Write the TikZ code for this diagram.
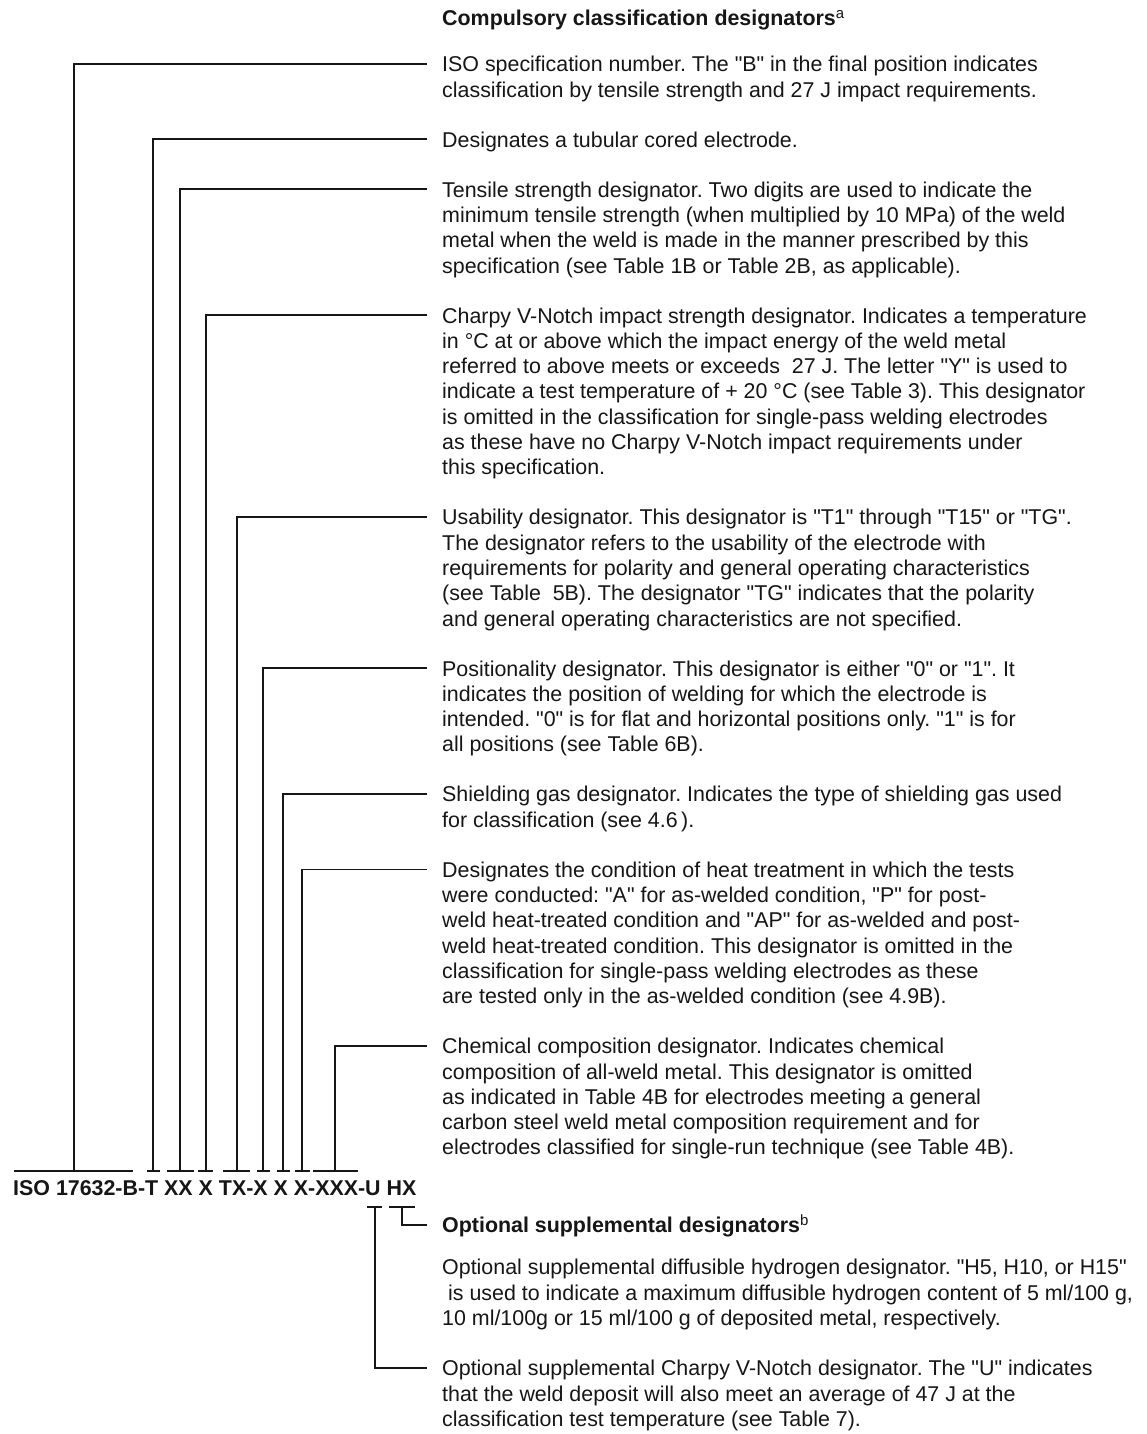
\documentclass[tikz,border=0pt]{standalone}
\usepackage{fontspec}
\setmainfont{Liberation Sans}[Ligatures=TeXOff]
\newcommand\bodyfnt{\fontsize{21.4pt}{25.3pt}\selectfont\frenchspacing}
\definecolor{ink}{HTML}{161616}
\tikzset{
  desc/.style={anchor=north west, inner sep=0pt, align=left, font=\bodyfnt, text=ink, yshift=10.05pt},
  head/.style={anchor=base west, inner sep=0pt, font=\bodyfnt\bfseries, text=ink},
  lead/.style={draw=ink, line width=1.8pt},
}
\begin{document}
\begin{tikzpicture}[x=1pt,y=-1pt]
\useasboundingbox (0,0) rectangle (1147,1434);
\fill[white] (0,0) rectangle (1147,1434);

% headings
\node[head] (h1) at (442,25.7) {Compulsory classification designators\textsuperscript{\mdseries a}};
\node[head] (code) at (13,1195) {ISO 17632-B-T XX X TX-X X X-XXX-U HX};
\node[head] (h2) at (442,1232.7) {Optional supplemental designators\textsuperscript{\mdseries b}};

% descriptions
\node[desc] (t1) at (442,64) {\strut ISO specification number. The "B" in the final position indicates\\
classification by tensile strength and 27 J impact requirements.};
\node[desc] (t2) at (442,139.3) {\strut Designates a tubular cored electrode.};
\node[desc] (t3) at (442,189.3) {\strut Tensile strength designator. Two digits are used to indicate the\\
minimum tensile strength (when multiplied by 10 MPa) of the weld\\
metal when the weld is made in the manner prescribed by this\\
specification (see Table 1B or Table 2B, as applicable).};
\node[desc] (t4) at (442,315.2) {\strut Charpy V-Notch impact strength designator. Indicates a temperature\\
in °C at or above which the impact energy of the weld metal\\
referred to above meets or exceeds\ \ 27 J. The letter "Y" is used to\\
indicate a test temperature of + 20 °C (see Table 3). This designator\\
is omitted in the classification for single-pass welding electrodes\\
as these have no Charpy V-Notch impact requirements under\\
this specification.};
\node[desc] (t5) at (442,517) {\strut Usability designator. This designator is "T1" through "T15" or "TG".\\
The designator refers to the usability of the electrode with\\
requirements for polarity and general operating characteristics\\
(see Table\ \ 5B). The designator "TG" indicates that the polarity\\
and general operating characteristics are not specified.};
\node[desc] (t6) at (442,668.2) {\strut Positionality designator. This designator is either "0" or "1". It\\
indicates the position of welding for which the electrode is\\
intended. "0" is for flat and horizontal positions only. "1" is for\\
all positions (see Table 6B).};
\node[desc] (t7) at (442,794.1) {\strut Shielding gas designator. Indicates the type of shielding gas used\\
for classification (see 4.6\,).};
\node[desc] (t8) at (442,869.4) {\strut Designates the condition of heat treatment in which the tests\\
were conducted: "A" for as-welded condition, "P" for post-\\
weld heat-treated condition and "AP" for as-welded and post-\\
weld heat-treated condition. This designator is omitted in the\\
classification for single-pass welding electrodes as these\\
are tested only in the as-welded condition (see 4.9B).};
\node[desc] (t9) at (442,1045.9) {\strut Chemical composition designator. Indicates chemical\\
composition of all-weld metal. This designator is omitted\\
as indicated in Table 4B for electrodes meeting a general\\
carbon steel weld metal composition requirement and for\\
electrodes classified for single-run technique (see Table 4B).};
\node[desc] (t10) at (442,1267) {\strut Optional supplemental diffusible hydrogen designator. "H5, H10, or H15"\\
\hspace{0.28em}is used to indicate a maximum diffusible hydrogen content of 5 ml/100 g,\\
10 ml/100g or 15 ml/100 g of deposited metal, respectively.};
\node[desc] (t11) at (442,1368) {\strut Optional supplemental Charpy V-Notch designator. The "U" indicates\\
that the weld deposit will also meet an average of 47 J at the\\
classification test temperature (see Table 7).};

% bracket bars above the code
\foreach \n/\l/\r/\v in {1/14/133/74, 2/147/160/153, 3/167/194/180, 4/198/213/206,
  5/223/250/237, 6/257/270/263, 7/277/290/283, 8/295/310/302, 9/313/358/335}{
  \coordinate (bl\n) at (\l,1171);
  \coordinate (br\n) at (\r,1171);
  \coordinate (bv\n) at (\v,1171);
  \draw[lead] (bl\n) -- (br\n);
}
% bracket bars below the code
\coordinate (ul) at (367,1207); \coordinate (ur) at (382,1207); \coordinate (uv) at (375,1207);
\coordinate (hl) at (389,1207); \coordinate (hr) at (415,1207); \coordinate (hv) at (402,1207);
\draw[lead] (ul) -- (ur);
\draw[lead] (hl) -- (hr);

% leaders
\foreach \n in {1,...,9}{
  \draw[lead] (bv\n) |- ([xshift=-15pt,yshift=-10.05pt]t\n.north west);
}
\draw[lead] (uv) |- ([xshift=-15pt,yshift=-10.05pt]t11.north west);
\draw[lead] (hv) |- ([xshift=-15pt,yshift=7.66pt]h2.base west);
\end{tikzpicture}
\end{document}
